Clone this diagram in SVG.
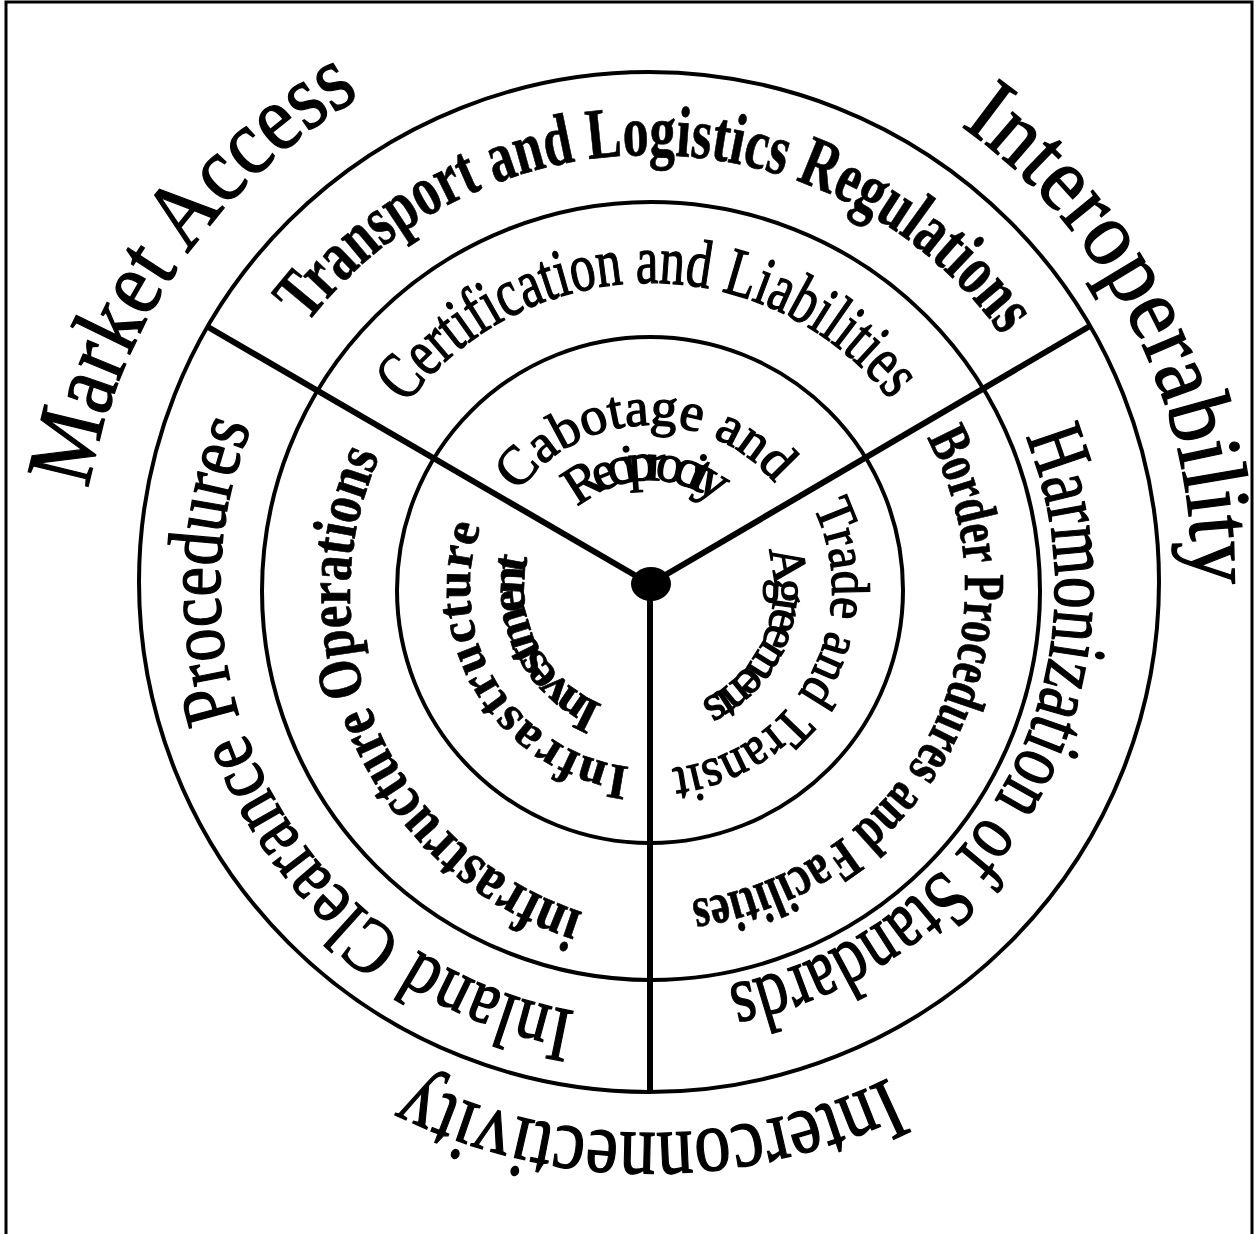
<svg xmlns="http://www.w3.org/2000/svg" width="1254" height="1234" viewBox="0 0 1254 1234">
<style>
.ring{fill:none;stroke:#000;stroke-width:4}
.spoke{stroke:#000;stroke-width:6;stroke-linecap:butt}
.t{font-family:"Liberation Serif","Times New Roman",serif;fill:#000;stroke:#000;stroke-width:1.3}
.b{font-weight:bold;stroke-width:0.7}
</style>
<defs>
<path id="pA" d="M80,588 A570,570 0 0 1 450.38,54.10"/>
<path id="pB" d="M901.27,88.75 A552,552 0 0 1 1186.29,654.21"/>
<path id="pC" d="M970.34,1028.91 A545,545 0 0 1 329.66,1028.91"/>
<path id="pD" d="M266.28,387.39 A433,433 0 0 1 1040.49,400.91"/>
<path id="pE" d="M378.24,449.53 A305,305 0 0 1 919.30,444.81"/>
<path id="pF" d="M503.50,516.55 A163,163 0 0 1 791.16,506.50"/>
<path id="pG" d="M564.89,521.51 A108,108 0 0 1 730.26,515.73"/>
<path id="pH" d="M796.49,480.00 A182,182 0 0 1 640.47,769.75"/>
<path id="pI" d="M759.49,529.79 A124,124 0 0 1 680.00,708.32"/>
<path id="pJ" d="M993.46,373.38 A405,405 0 0 1 657.07,992.94"/>
<path id="pK" d="M896.52,391.91 A315,315 0 0 1 636.26,902.70"/>
<path id="pL" d="M650,1018 A430,430 0 0 1 285.34,360.13"/>
<path id="pM" d="M649.09,926.17 A334,334 0 0 1 413.79,397.68"/>
<path id="pN" d="M660.99,767.66 A180,180 0 0 1 494.12,498"/>
<path id="pO" d="M623.80,711.25 A126,126 0 0 1 534.89,536.75"/>
</defs>
<rect x="6" y="2" width="1246" height="1300" fill="#fff" stroke="#000" stroke-width="3"/>
<g id="rings">
<circle class="ring" cx="649" cy="582" r="510"/>
<circle class="ring" cx="651" cy="591" r="389"/>
<circle class="ring" cx="650" cy="590" r="253"/>
</g>
<g id="connectors">
<line class="spoke" x1="650" y1="584" x2="208" y2="327"/>
<line class="spoke" x1="650" y1="584" x2="1090" y2="326"/>
<line class="spoke" x1="650" y1="584" x2="650" y2="1092"/>
<ellipse cx="651" cy="584" rx="20" ry="17" fill="#000"/>
</g>
<g id="market-access"><text class="t" font-size="94" text-anchor="middle"><textPath href="#pA" startOffset="50%" textLength="492.4" lengthAdjust="spacingAndGlyphs">Market Access</textPath></text></g>
<g id="interoperability"><text class="t" font-size="92" text-anchor="middle"><textPath href="#pB" startOffset="50%" textLength="534.7" lengthAdjust="spacingAndGlyphs">Interoperability</textPath></text></g>
<g id="interconnectivity"><text class="t" font-size="88" text-anchor="middle"><textPath href="#pC" startOffset="50%" textLength="494.6" lengthAdjust="spacingAndGlyphs">Interconnectivity</textPath></text></g>
<g id="transport"><text class="t b" font-size="72" text-anchor="middle"><textPath href="#pD" startOffset="50%" textLength="807.1" lengthAdjust="spacingAndGlyphs">Transport and Logistics Regulations</textPath></text></g>
<g id="certification"><text class="t" font-size="68" text-anchor="middle"><textPath href="#pE" startOffset="50%" textLength="558.9" lengthAdjust="spacingAndGlyphs">Certification and Liabilities</textPath></text></g>
<g id="cabotage"><text class="t" font-size="54" text-anchor="middle"><textPath href="#pF" startOffset="50%" textLength="295.9">Cabotage and</textPath></text></g>
<g id="reciprocity"><text class="t" font-size="54" text-anchor="middle"><textPath href="#pG" startOffset="50%" textLength="150.8">Reciprocity</textPath></text></g>
<g id="trade"><text class="t" font-size="54" text-anchor="middle"><textPath href="#pH" startOffset="50%" textLength="347.5" lengthAdjust="spacingAndGlyphs">Trade and Transit</textPath></text></g>
<g id="agreements"><text class="t" font-size="50" text-anchor="middle"><textPath href="#pI" startOffset="50%" textLength="181.8">Agreements</textPath></text></g>
<g id="harmonization"><text class="t" font-size="82" text-anchor="middle"><textPath href="#pJ" startOffset="50%" textLength="713.9" lengthAdjust="spacingAndGlyphs">Harmonization of Standards</textPath></text></g>
<g id="border"><text class="t b" font-size="58" text-anchor="middle"><textPath href="#pK" startOffset="50%" textLength="610.3" lengthAdjust="spacingAndGlyphs">Border Procedures and Facilities</textPath></text></g>
<g id="inland"><text class="t" font-size="78" text-anchor="middle"><textPath href="#pL" startOffset="50%" textLength="765.5" lengthAdjust="spacingAndGlyphs">Inland Clearance Procedures</textPath></text></g>
<g id="infra-operations"><text class="t b" font-size="62" text-anchor="middle"><textPath href="#pM" startOffset="50%" textLength="564.3" lengthAdjust="spacingAndGlyphs">infrastructure Operations</textPath></text></g>
<g id="infrastructure"><text class="t b" font-size="50" text-anchor="middle"><textPath href="#pN" startOffset="50%" textLength="325.2">Infrastructure</textPath></text></g>
<g id="investment"><text class="t b" font-size="50" text-anchor="middle"><textPath href="#pO" startOffset="50%" textLength="180.3">Investment</textPath></text></g>
</svg>
